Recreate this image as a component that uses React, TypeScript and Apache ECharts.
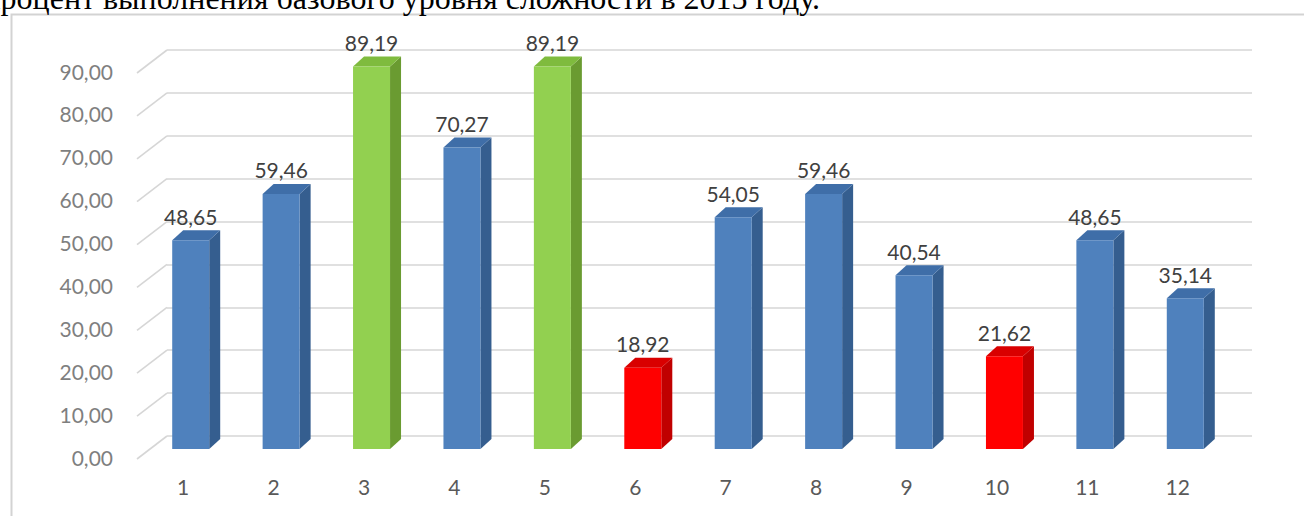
import React, { useEffect, useRef } from "react";
import * as echarts from "echarts";

// Task numbers and the share of students who solved each one (%)
const categories = ["1", "2", "3", "4", "5", "6", "7", "8", "9", "10", "11", "12"];
const values = [48.65, 59.46, 89.19, 70.27, 89.19, 18.92, 54.05, 59.46, 40.54, 21.62, 48.65, 35.14];
const yTicks = [0, 10, 20, 30, 40, 50, 60, 70, 80, 90];

const heading = "процент выполнения базового уровня сложности в 2015 году.";

// Bars above HIGH are green, below LOW are red, the rest blue
const HIGH = 80;
const LOW = 30;
const palettes = {
  high: { front: "#92d050", side: "#6a9b31", top: "#7fbb3e" },
  low: { front: "#ff0000", side: "#c00000", top: "#d90000" },
  mid: { front: "#4f81bd", side: "#355e8f", top: "#3f6ea8" },
};
const paletteFor = (v: number) => (v >= HIGH ? palettes.high : v < LOW ? palettes.low : palettes.mid);
const fmt = (v: number) => v.toFixed(2).replace(".", ",");

const FONT = "Lato, 'Open Sans', sans-serif";

export default function App() {
  const ref = useRef<HTMLDivElement>(null);

  useEffect(() => {
    if (!ref.current) return;
    const chart = echarts.init(ref.current, null, { renderer: "svg" });

    // 3D look: front face offset below the back plane, side and top faces going back-right
    const DX = 11;
    const DY = -10;
    const FRONT_DROP = 13;

    const option: any = {
      animation: false,
      backgroundColor: "#ffffff",
      graphic: [
        {
          type: "rect",
          left: 9,
          top: 12,
          shape: { x: 0, y: 0, width: 1400, height: 600 },
          style: { fill: "none", stroke: "#d3d3d3", lineWidth: 2 },
          z: 0,
        },
        {
          type: "text",
          x: 820,
          y: -2,
          style: {
            text: heading,
            fontFamily: "'Liberation Serif', 'Times New Roman', serif",
            fontSize: 32,
            fill: "#000000",
            align: "right",
            verticalAlign: "middle",
          },
          z: 5,
        },
      ],
      grid: { left: 167, right: 52, top: 50, bottom: 80, containLabel: false },
      xAxis: {
        type: "category",
        data: categories,
        boundaryGap: true,
        axisLine: { show: false },
        axisTick: { show: false },
        axisLabel: {
          color: "#595959",
          fontSize: 21,
          fontFamily: FONT,
          margin: 40,
          padding: [0, 58, 0, 0],
        },
      },
      yAxis: {
        type: "value",
        min: 0,
        max: 90,
        interval: 10,
        axisLine: { show: false },
        axisTick: { show: false },
        splitLine: { lineStyle: { color: "#d6d6d6", width: 1.6 } },
        axisLabel: {
          color: "#7f7f7f",
          fontSize: 21,
          fontFamily: FONT,
          margin: 54,
          // labels sit on the front edge, lower than the back gridlines
          verticalAlign: "top",
          lineHeight: 42,
          formatter: (v: number) => fmt(v),
        },
      },
      series: [
        {
          // slanted side-wall edges leading from each tick label to its gridline
          type: "custom",
          silent: true,
          z: 1,
          encode: { x: 0, y: 1 },
          data: yTicks.map((v) => [0, v]),
          renderItem: (params: any, api: any) => {
            const y = api.coord([0, api.value(1)])[1];
            const x0 = params.coordSys.x;
            return {
              type: "line",
              shape: { x1: x0 - 30, y1: y + 23, x2: x0, y2: y },
              style: { stroke: "#d6d6d6", lineWidth: 1.6 },
            };
          },
        },
        {
          type: "custom",
          z: 3,
          encode: { x: 0, y: 1 },
          data: values.map((v, i) => [i, v]),
          renderItem: (params: any, api: any) => {
            const i = api.value(0);
            const v = api.value(1);
            const base = api.coord([i, 0]);
            const top = api.coord([i, v]);
            const cx = base[0];
            const x0 = cx - 40;
            const x1 = cx - 3;
            const yb = base[1] + FRONT_DROP;
            const yt = top[1] + FRONT_DROP;
            const c = paletteFor(v);
            return {
              type: "group",
              children: [
                {
                  type: "polygon",
                  shape: {
                    points: [
                      [x1, yt],
                      [x1 + DX, yt + DY],
                      [x1 + DX, yb + DY],
                      [x1, yb],
                    ],
                  },
                  style: { fill: c.side },
                },
                {
                  type: "polygon",
                  shape: {
                    points: [
                      [x0, yt],
                      [x0 + DX, yt + DY],
                      [x1 + DX, yt + DY],
                      [x1, yt],
                    ],
                  },
                  style: { fill: c.top },
                },
                {
                  type: "rect",
                  shape: { x: x0, y: yt, width: x1 - x0, height: yb - yt },
                  style: { fill: c.front },
                },
                {
                  type: "text",
                  x: (x0 + x1) / 2,
                  y: yt - 24,
                  style: {
                    text: fmt(v),
                    fontFamily: FONT,
                    fontSize: 21,
                    fill: "#404040",
                    align: "center",
                    verticalAlign: "middle",
                  },
                },
              ],
            };
          },
        },
      ],
    };

    chart.setOption(option);
    return () => chart.dispose();
  }, []);

  return (
    <div
      ref={ref}
      style={{ position: "absolute", left: 0, top: 0, width: 1304, height: 516 }}
    />
  );
}
